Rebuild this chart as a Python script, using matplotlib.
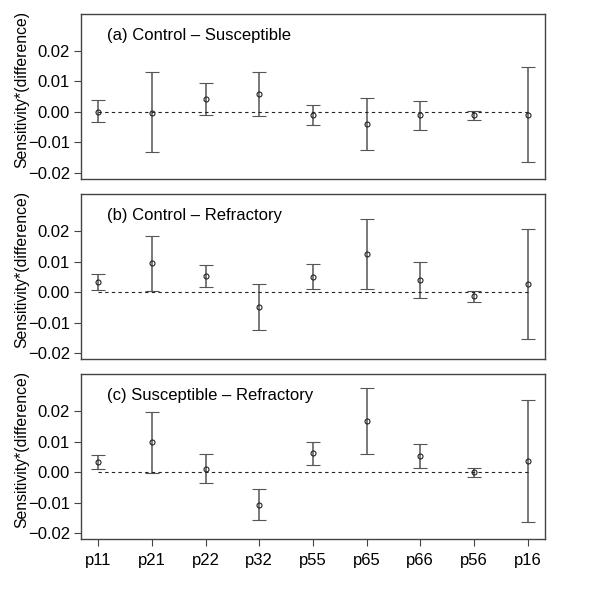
import numpy as np
import matplotlib
matplotlib.use("Agg")
import matplotlib.pyplot as plt

plt.rcParams['font.family'] = ['Liberation Sans', 'DejaVu Sans']

params = ['p11', 'p21', 'p22', 'p32', 'p55', 'p65', 'p66', 'p56', 'p16']
titles = ['(a) Control \u2013 Susceptible',
          '(b) Control \u2013 Refractory',
          '(c) Susceptible \u2013 Refractory']

# estimates and interval bounds, one list per panel
est_a = [0.0000, -0.0003, 0.0043, 0.0057, -0.0010, -0.0039, -0.0011, -0.0011, -0.0010]
low_a = [-0.0035, -0.0133, -0.0010, -0.0014, -0.0042, -0.0126, -0.0059, -0.0027, -0.0166]
up_a = [0.0037, 0.0129, 0.0094, 0.0129, 0.0021, 0.0045, 0.0036, 0.0004, 0.0146]

est_b = [0.0033, 0.0095, 0.0053, -0.0049, 0.0050, 0.0125, 0.0039, -0.0013, 0.0026]
low_b = [0.0008, 0.0002, 0.0017, -0.0125, 0.0010, 0.0010, -0.0018, -0.0033, -0.0153]
up_b = [0.0059, 0.0185, 0.0089, 0.0027, 0.0091, 0.0239, 0.0098, 0.0005, 0.0205]

est_c = [0.0033, 0.0097, 0.0011, -0.0107, 0.0062, 0.0166, 0.0052, -0.0001, 0.0036]
low_c = [0.0010, -0.0002, -0.0037, -0.0157, 0.0023, 0.0058, 0.0012, -0.0016, -0.0163]
up_c = [0.0055, 0.0197, 0.0059, -0.0056, 0.0099, 0.0274, 0.0092, 0.0012, 0.0236]

panels = [(est_a, low_a, up_a), (est_b, low_b, up_b), (est_c, low_c, up_c)]

fig = plt.figure(figsize=(6, 6), dpi=100)
x = np.arange(1, len(params) + 1)
tops = [0.9767, 0.6762, 0.3762]

for i, (est, low, up) in enumerate(panels):
    ax = fig.add_axes([0.135, tops[i] - 0.275, 0.773, 0.275])
    est = np.array(est)
    yerr = [est - np.array(low), np.array(up) - est]
    ax.errorbar(x, est, yerr=yerr, fmt='o', mfc='none', mec='#222222',
                ms=3.6, mew=0.8, ecolor='#555555', elinewidth=1.1,
                capsize=4.7, capthick=1.1)
    ax.plot([1, 9], [0, 0], ls=(0, (3, 3)), color='#222222', lw=0.8)
    ax.set_xlim(0.68, 9.32)
    ax.set_ylim(-0.022, 0.032)
    ax.set_yticks([-0.02, -0.01, 0.0, 0.01, 0.02])
    ax.set_yticklabels(['\u22120.02', '\u22120.01', '0.00', '0.01', '0.02'])
    ax.set_xticks(x)
    if i == 2:
        ax.set_xticklabels(params)
    else:
        ax.tick_params(axis='x', bottom=False, labelbottom=False)
    ax.tick_params(axis='both', labelsize=12, length=5, color='#444444',
                   direction='out', pad=3)
    ax.tick_params(axis='x', pad=5)
    for s in ax.spines.values():
        s.set_color('#444444')
        s.set_linewidth(1.0)
    ax.set_ylabel('Sensitivity*(difference)', fontsize=11.3)
    ax.yaxis.set_label_coords(-0.112, 0.545)
    ax.text(0.055, 0.87, titles[i], transform=ax.transAxes, fontsize=12,
            va='center', ha='left')

fig.savefig('out.png', dpi=100)
